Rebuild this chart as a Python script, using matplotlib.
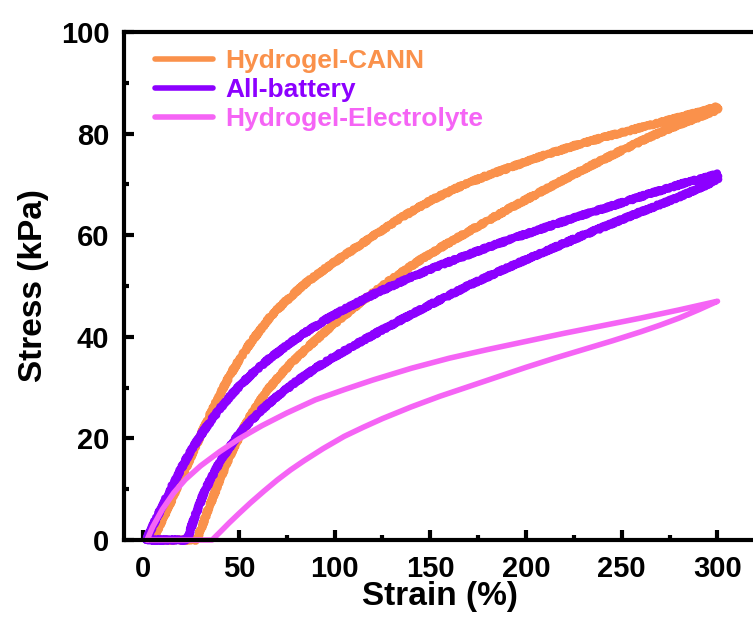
"""
Cyclic loading-unloading stress-strain loops for the hydrogel samples.
"""

import numpy as np
import matplotlib
matplotlib.use("Agg")
import matplotlib.pyplot as plt
from matplotlib.ticker import MultipleLocator

plt.rcParams["font.family"] = ["Liberation Sans", "DejaVu Sans"]
plt.rcParams["font.weight"] = "bold"

# -----------------------------------------------------------------------------
# Data (strain in %, stress in kPa)
# -----------------------------------------------------------------------------
labels = ["Hydrogel-CANN", "All-battery", "Hydrogel-Electrolyte"]
colors = ["#FA914B", "#8C00FF", "#F564F5"]

cann_load_x = [5, 10, 15, 20, 25, 30, 35, 40, 45, 50, 55, 60, 67, 75, 85, 95, 105, 120, 135,
               150, 165, 180, 195, 210, 225, 240, 255, 270, 285, 300]
cann_load_y = [0, 4, 8, 12.2, 16.4, 20.6, 24.7, 28.6, 32.2, 35.4, 38.2, 40.8, 44.2, 47.2, 50.6,
               53.4, 56.0, 59.8, 63.5, 66.8, 69.5, 71.8, 73.8, 75.8, 77.6, 79.2, 80.7, 82.2, 83.7, 85.3]
cann_unload_x = [28, 32, 36, 40, 44, 48, 52, 56, 60, 65, 70, 77, 85, 95, 105, 115, 130, 145, 160,
                 175, 190, 205, 220, 235, 250, 265, 280, 290, 300]
cann_unload_y = [0, 4, 8, 11.8, 15.4, 18.7, 21.7, 24.4, 26.8, 29.5, 31.8, 34.7, 37.6, 41.0, 44.2,
                 47.2, 51.4, 55.2, 58.6, 61.8, 65.0, 68.0, 71.0, 73.9, 76.7, 79.4, 81.8, 83.2, 84.7]

batt_load_x = [1.5, 5, 10, 15, 20, 25, 30, 35, 40, 45, 50, 57, 65, 75, 85, 95, 105, 120, 135, 150,
               165, 180, 195, 210, 225, 240, 255, 270, 285, 300]
batt_load_y = [0, 2.8, 6.7, 10.5, 14.2, 17.6, 20.6, 23.3, 25.8, 28.1, 30.2, 32.8, 35.4, 38.3, 40.9,
               43.3, 45.4, 48.3, 50.9, 53.3, 55.5, 57.6, 59.6, 61.5, 63.4, 65.2, 67.0, 68.8, 70.5, 72]
batt_unload_x = [23, 27, 31, 35, 40, 45, 50, 56, 63, 70, 80, 90, 100, 112, 125, 140, 155, 170, 185,
                 200, 215, 230, 245, 260, 275, 290, 300]
batt_unload_y = [0, 4.6, 8.6, 11.8, 15.3, 18.2, 20.8, 23.4, 26.0, 28.3, 31.2, 33.8, 36.1, 38.7, 41.4,
                 44.4, 47.3, 50.1, 52.7, 55.2, 57.6, 60.0, 62.3, 64.6, 66.8, 69.1, 71]

elec_load_x = [2, 5, 10, 16, 22, 30, 40, 50, 62, 75, 90, 105, 120, 140, 160, 180, 200, 220, 240,
               260, 280, 300]
elec_load_y = [0, 2.6, 6.0, 9.3, 11.9, 14.6, 17.4, 19.9, 22.5, 25.0, 27.6, 29.6, 31.5, 33.8, 35.8,
               37.5, 39.1, 40.7, 42.2, 43.7, 45.3, 47]
elec_unload_x = [36, 40, 45, 50, 56, 63, 70, 77, 84, 94, 105, 115, 125, 140, 155, 170, 185, 200, 215,
                 230, 245, 260, 270, 280, 290, 300]
elec_unload_y = [0, 1.5, 3.4, 5.2, 7.3, 9.6, 11.8, 13.8, 15.6, 18.0, 20.4, 22.2, 23.9, 26.2, 28.3,
                 30.2, 32.1, 34.0, 35.8, 37.5, 39.2, 41.0, 42.3, 43.7, 45.3, 47]

loads = [(cann_load_x, cann_load_y), (batt_load_x, batt_load_y), (elec_load_x, elec_load_y)]
unloads = [(cann_unload_x, cann_unload_y), (batt_unload_x, batt_unload_y), (elec_unload_x, elec_unload_y)]
widths = [5.5, 5.5, 4.0]
wobble = [True, True, False]

# -----------------------------------------------------------------------------
# Plot
# -----------------------------------------------------------------------------
fig = plt.figure(figsize=(7.53, 6.18), dpi=100)
ax = fig.add_axes([0.1647, 0.1262, 0.839, 0.822])

for (lx, ly), (ux, uy), c, lab, lw, wob in zip(loads, unloads, colors, labels, widths, wobble):
  # closed loop: loading branch, unloading branch back, then along zero stress
  x = np.concatenate([lx, ux[::-1], lx[:1]])
  y = np.concatenate([ly, uy[::-1], ly[:1]])
  ln, = ax.plot(x, y, color=c, lw=lw, label=lab, solid_joinstyle="round",
                solid_capstyle="round", clip_on=False)
  if wob:
    ln.set_sketch_params(scale=1.2, length=3, randomness=2)

ax.set_xlim(-10, 320)
ax.set_ylim(0, 100)
ax.xaxis.set_major_locator(MultipleLocator(50))
ax.xaxis.set_minor_locator(MultipleLocator(25))
ax.yaxis.set_major_locator(MultipleLocator(20))
ax.yaxis.set_minor_locator(MultipleLocator(10))

ax.tick_params(which="major", direction="in", length=7, width=3, labelsize=21, pad=10.5)
ax.tick_params(which="minor", direction="in", length=3.5, width=3)
for lbl in ax.get_xticklabels() + ax.get_yticklabels():
  lbl.set_fontweight("bold")
for sp in ax.spines.values():
  sp.set_linewidth(3)

ax.set_xlabel("Strain (%)", fontsize=24, fontweight="bold")
ax.set_ylabel("Stress (kPa)", fontsize=24, fontweight="bold")
ax.xaxis.set_label_coords(0.5, -0.08)
ax.yaxis.set_label_coords(-0.118, 0.5)

leg = ax.legend(loc="upper left", bbox_to_anchor=(0.049, 0.967), frameon=False,
                borderpad=0, borderaxespad=0, fontsize=19, handlelength=2.2,
                handletextpad=0.45, labelspacing=0.2)
for txt, c in zip(leg.get_texts(), colors):
  txt.set_color(c)
  txt.set_fontweight("bold")
for h in leg.get_lines():
  h.set_sketch_params(None)
  h.set_linewidth(4)

fig.savefig("out.png", dpi=100)
